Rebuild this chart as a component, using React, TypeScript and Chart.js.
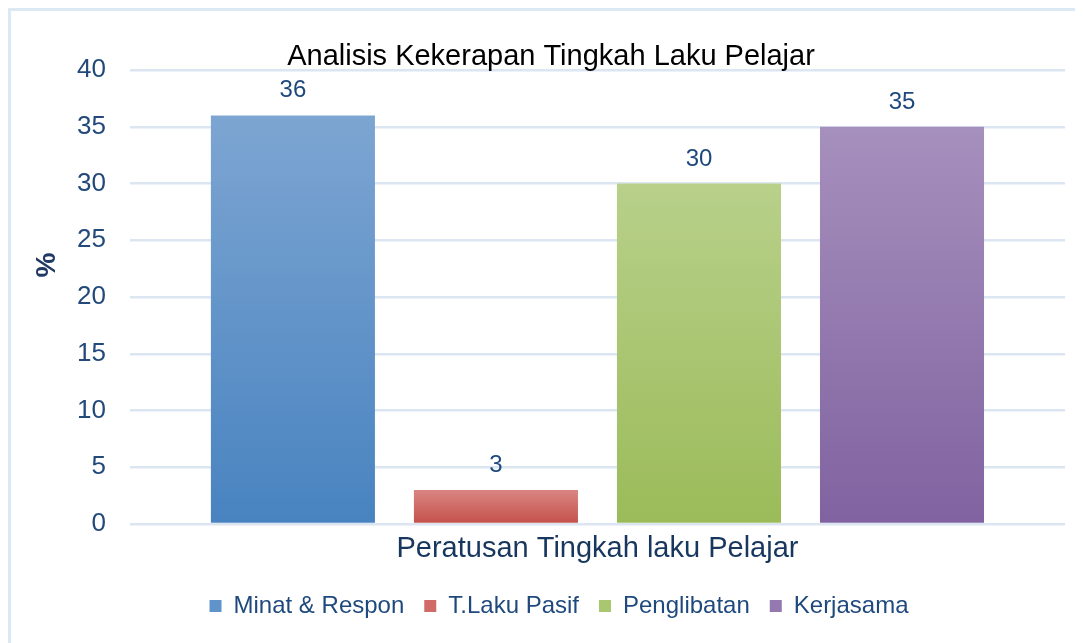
import React, { useEffect, useRef } from "react";
import { Chart, registerables } from "chart.js";

Chart.register(...registerables);

const categories = ["Peratusan Tingkah laku Pelajar"];
const seriesNames = ["Minat & Respon", "T.Laku Pasif", "Penglibatan", "Kerjasama"];
const minatValues = [36];
const pasifValues = [3];
const penglibatanValues = [30];
const kerjasamaValues = [35];
const seriesValues = [minatValues, pasifValues, penglibatanValues, kerjasamaValues];
const yTickMin = 0;
const yTickMax = 40;
const yTickStep = 5;

const chartTitle = "Analisis Kekerapan Tingkah Laku Pelajar";
const yTitle = "%";

const gradientTop = ["#7DA5D2", "#DA8582", "#B8D08A", "#A690BD"];
const gradientBottom = ["#4883C0", "#C4504B", "#9BBB59", "#8062A0"];
const legendColors = ["#5F93CA", "#CF6A66", "#A9C671", "#9379B0"];

const FONT = "'Liberation Sans', Arial, sans-serif";
const BLUE_TEXT = "#1F497D";

const overlayPlugin = {
  id: "overlay",
  afterDatasetsDraw(chart: any) {
    const ctx = chart.ctx;
    ctx.save();
    // data labels
    ctx.font = `24px ${FONT}`;
    ctx.fillStyle = BLUE_TEXT;
    ctx.textAlign = "center";
    ctx.textBaseline = "alphabetic";
    chart.data.datasets.forEach((ds: any, i: number) => {
      const meta = chart.getDatasetMeta(i);
      meta.data.forEach((el: any, j: number) => {
        ctx.fillText(String(ds.data[j]), el.x, el.y - 18);
      });
    });
    // title
    ctx.font = `29px ${FONT}`;
    ctx.fillStyle = "#000000";
    ctx.fillText(chartTitle, 540, 54);
    // y title
    ctx.translate(36, 254);
    ctx.rotate(-Math.PI / 2);
    ctx.font = `bold 28px ${FONT}`;
    ctx.fillStyle = "#1F3864";
    ctx.textBaseline = "middle";
    ctx.fillText(yTitle, 0, 0);
    ctx.restore();
  },
};

function makeGradient(i: number) {
  return (context: any) => {
    const chart = context.chart;
    const y = chart.scales && chart.scales.y;
    if (!y || !chart.chartArea || context.parsed == null) return gradientBottom[i];
    const top = y.getPixelForValue(context.parsed.y);
    const bottom = y.getPixelForValue(0);
    if (!isFinite(top) || !isFinite(bottom) || top === bottom) return gradientBottom[i];
    const g = chart.ctx.createLinearGradient(0, top, 0, bottom);
    g.addColorStop(0, gradientTop[i]);
    g.addColorStop(1, gradientBottom[i]);
    return g;
  };
}

export default function App() {
  const ref = useRef<HTMLCanvasElement | null>(null);

  useEffect(() => {
    if (!ref.current) return;
    const chart = new Chart(ref.current, {
      type: "bar",
      data: {
        labels: categories,
        datasets: seriesNames.map((name, i) => ({
          label: name,
          data: seriesValues[i],
          backgroundColor: makeGradient(i),
          borderWidth: 0,
          categoryPercentage: 0.8685,
          barPercentage: 0.808,
        })),
      },
      options: {
        responsive: false,
        animation: false,
        layout: { padding: { left: 42, top: 59, right: 18, bottom: 15 } },
        plugins: {
          title: { display: false },
          tooltip: { enabled: false },
          legend: {
            position: "bottom",
            labels: {
              boxWidth: 12,
              boxHeight: 12,
              padding: 20,
              color: BLUE_TEXT,
              font: { family: FONT, size: 24 },
              generateLabels: (c: any) =>
                Chart.defaults.plugins.legend.labels.generateLabels(c).map((l: any, i: number) => ({
                  ...l,
                  fillStyle: legendColors[i],
                  strokeStyle: legendColors[i],
                  lineWidth: 0,
                })),
            },
          },
        },
        scales: {
          x: {
            grid: { display: false, drawTicks: false },
            border: { display: false },
            ticks: {
              color: "#17375E",
              font: { family: FONT, size: 29, lineHeight: 1.2 },
              padding: 7.6,
            },
          },
          y: {
            min: yTickMin,
            max: yTickMax,
            grid: { color: "#DCE6F2", lineWidth: 2.5, drawTicks: false },
            border: { display: false },
            ticks: {
              stepSize: yTickStep,
              color: "#23497A",
              font: { family: FONT, size: 26 },
              padding: 24,
            },
          },
        },
      },
      plugins: [overlayPlugin],
    } as any);
    return () => chart.destroy();
  }, []);

  return (
    <div
      style={{
        width: 1075,
        height: 635,
        boxSizing: "border-box",
        borderLeft: "3px solid #DDE8F5",
        borderTop: "3px solid #DDE8F5",
        background: "#FFFFFF",
      }}
    >
      <canvas ref={ref} width={1072} height={632} style={{ display: "block" }} />
    </div>
  );
}
